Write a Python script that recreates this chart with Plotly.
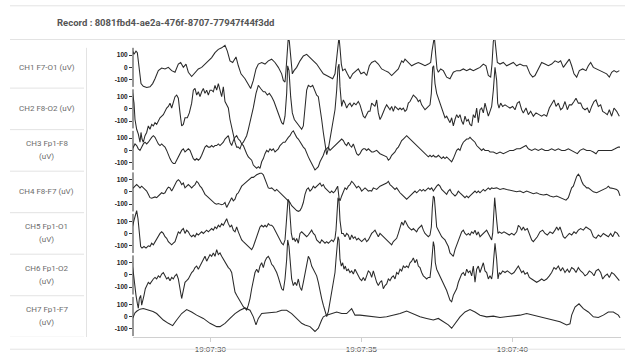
import numpy as np
import pandas as pd
import plotly.graph_objects as go

RECORD_ID = "8081fbd4-ae2a-476f-8707-77947f44f3dd"
START = pd.Timestamp("2019-05-14 19:07:27.341")   # time of sample 0
FS = 90.6                                         # samples per second
VIEW_SAMPLES = [9, 1473]                          # visible sample window

CHANNEL_LABELS = [
    ["CH1 F7-O1 (uV)"],
    ["CH2 F8-O2 (uV)"],
    ["CH3 Fp1-F8", "(uV)"],
    ["CH4 F8-F7 (uV)"],
    ["CH5 Fp1-O1", "(uV)"],
    ["CH6 Fp1-O2", "(uV)"],
    ["CH7 Fp1-F7", "(uV)"],
]
Y_TICKS = [-100, 0, 100]
CHANNEL_SPACING = 340  # uV between channel baselines

# (sample index, microvolts)
CH1 = [(5,93),(8,133),(12,107),(18,133),(22,120),(28,0),(33,-133),(40,-155),(50,-165),(60,-160),(68,-133),(75,-93),(85,-27),(95,-5),(105,-13),(115,0),(125,-27),(135,-40),(145,27),(152,40),(160,0),(168,27),(175,-40),(185,-75),(195,-40),(205,-13),(215,0),(225,27),(235,53),(245,80),(255,120),(265,147),(275,160),(285,181),(292,133),(300,53),(308,40),(318,85),(325,13),(333,-53),(345,-93),(355,-147),(362,-173),(370,-107),(378,-13),(385,27),(395,40),(405,27),(415,53),(425,67),(435,40),(445,0),(455,-53),(460,-107),(465,-120),(468,-27),(472,133),(475,250),(478,213),(482,80),(487,-53),(492,-27),(500,0),(510,53),(520,93),(530,107),(540,80),(550,53),(560,27),(570,-13),(580,-53),(590,-67),(600,-80),(608,-93),(615,-53),(620,80),(624,213),(627,250),(630,160),(634,27),(638,-27),(645,-13),(652,-53),(660,-93),(668,-53),(678,-27),(685,-13),(693,-53),(702,-40),(710,-67),(718,13),(725,40),(735,53),(745,27),(755,-13),(765,-27),(775,-40),(785,-67),(795,-40),(805,-13),(815,53),(820,40),(825,67),(835,40),(845,13),(855,27),(865,40),(875,27),(885,13),(895,27),(902,40),(906,133),(910,227),(913,250),(917,107),(921,-13),(925,-40),(932,-13),(940,-27),(950,-80),(960,-93),(970,-40),(980,-27),(990,-27),(1000,-13),(1010,-27),(1020,-13),(1030,-27),(1040,-13),(1050,0),(1060,27),(1068,13),(1075,-67),(1082,-80),(1086,27),(1090,213),(1094,250),(1098,133),(1102,40),(1110,27),(1120,40),(1130,13),(1140,27),(1150,40),(1160,13),(1170,27),(1180,13),(1190,13),(1200,-53),(1208,-80),(1215,-67),(1225,-13),(1235,40),(1245,27),(1255,13),(1265,27),(1275,53),(1285,40),(1292,53),(1300,0),(1308,27),(1318,67),(1325,13),(1332,-53),(1340,-80),(1348,-27),(1358,-13),(1368,-27),(1375,13),(1382,40),(1390,0),(1400,-13),(1410,-27),(1420,-40),(1430,-53),(1438,-80),(1445,-40),(1452,-27),(1460,-40),(1468,-27)]

CH2 = [(3,127),(5,180),(8,127),(12,47),(15,-87),(20,-167),(25,-207),(30,-273),(33,-193),(36,-247),(40,-273),(45,-220),(50,-193),(55,-140),(60,-167),(65,-127),(70,-140),(75,-113),(80,-127),(90,-73),(100,-47),(110,7),(115,20),(120,47),(125,7),(130,60),(135,100),(140,113),(145,87),(150,-33),(155,-140),(160,-127),(165,-73),(172,-73),(178,-33),(185,47),(190,153),(195,167),(200,113),(205,140),(210,100),(215,140),(220,167),(225,127),(230,153),(235,113),(240,153),(245,153),(250,140),(255,193),(260,153),(265,207),(270,153),(275,100),(280,180),(285,60),(290,33),(295,7),(300,-87),(305,-153),(310,-193),(315,-273),(320,-313),(325,-313),(330,-327),(335,-287),(340,-273),(345,-247),(350,-220),(355,-167),(360,-113),(365,-60),(370,10),(378,127),(385,193),(392,167),(400,140),(405,140),(412,113),(418,127),(425,100),(432,60),(440,7),(448,-60),(455,-113),(460,-127),(465,-60),(470,127),(473,353),(477,313),(482,100),(487,-33),(493,-87),(500,-113),(508,-140),(515,-167),(520,-140),(525,-7),(530,153),(535,193),(542,180),(548,193),(555,140),(560,113),(565,100),(570,20),(575,-87),(580,-193),(585,-273),(590,-375),(595,-327),(600,-247),(605,-167),(610,-87),(615,-7),(620,153),(624,340),(627,367),(630,180),(635,20),(640,73),(645,47),(650,7),(655,33),(660,47),(665,20),(672,47),(678,33),(685,60),(690,33),(695,-7),(700,-60),(705,-73),(710,-47),(715,-20),(720,-20),(725,47),(735,20),(740,73),(745,-33),(750,-87),(755,-60),(760,-20),(765,7),(770,33),(775,7),(780,-7),(785,20),(790,-20),(795,20),(800,7),(805,-7),(810,7),(815,-7),(820,7),(825,-20),(830,-7),(835,47),(840,60),(845,87),(850,113),(855,100),(860,87),(865,60),(870,73),(875,33),(880,7),(885,-7),(890,7),(895,20),(900,33),(904,127),(908,340),(911,353),(915,207),(920,127),(925,87),(930,47),(935,20),(940,-33),(945,-73),(950,-60),(955,-87),(960,-113),(965,-73),(970,-140),(975,-87),(980,-47),(985,-73),(990,-47),(995,-100),(1000,-127),(1005,-60),(1010,-100),(1015,-87),(1020,-127),(1025,-140),(1030,-47),(1035,-73),(1040,7),(1045,-113),(1050,-7),(1055,7),(1060,-33),(1065,47),(1070,-7),(1075,-60),(1080,-20),(1085,20),(1090,153),(1094,313),(1095,340),(1100,233),(1103,47),(1107,7),(1112,47),(1118,20),(1125,33),(1132,20),(1140,7),(1148,20),(1155,-7),(1162,47),(1168,60),(1175,-7),(1180,-33),(1188,7),(1195,-47),(1202,-20),(1210,-60),(1218,-33),(1225,-47),(1235,-60),(1242,-47),(1250,-60),(1258,7),(1265,47),(1272,73),(1278,20),(1285,47),(1292,-7),(1298,7),(1305,60),(1312,-7),(1318,33),(1325,33),(1332,60),(1338,87),(1345,47),(1352,47),(1358,7),(1365,-7),(1372,7),(1378,-33),(1385,20),(1392,60),(1398,73),(1405,20),(1412,33),(1418,-20),(1425,-33),(1432,-47),(1438,-7),(1445,-60),(1452,7),(1460,-20),(1468,-60)]

CH3 = [(5,0),(10,27),(15,53),(20,40),(25,13),(30,0),(35,27),(40,53),(45,67),(50,53),(55,67),(60,93),(65,107),(70,120),(75,107),(80,80),(85,53),(90,40),(95,53),(100,40),(105,27),(110,0),(115,-40),(120,-67),(125,-93),(130,-107),(135,-107),(140,-80),(145,-53),(150,-27),(155,0),(160,13),(165,-13),(170,0),(175,13),(180,0),(185,-40),(190,-67),(195,-80),(200,-67),(205,-80),(210,-67),(215,-40),(220,0),(225,27),(230,40),(235,27),(240,27),(245,40),(250,27),(255,40),(260,40),(265,53),(270,40),(275,53),(280,67),(285,93),(290,107),(295,120),(300,67),(305,40),(310,80),(315,107),(320,120),(325,93),(330,80),(335,53),(340,40),(345,0),(350,-27),(355,-53),(360,-67),(365,-80),(370,-120),(375,-133),(380,-147),(385,-133),(390,-147),(395,-93),(400,-67),(405,-27),(410,0),(415,-13),(420,13),(425,0),(430,13),(435,-13),(440,0),(445,13),(450,40),(455,53),(460,67),(465,67),(470,93),(475,107),(480,120),(485,147),(490,160),(495,133),(500,107),(505,93),(510,67),(515,53),(520,27),(525,13),(530,-27),(535,-53),(540,-80),(545,-107),(550,-133),(555,-160),(560,-147),(565,-133),(570,-93),(575,-67),(580,-40),(585,0),(590,13),(595,27),(600,0),(605,13),(610,27),(615,40),(620,53),(625,67),(630,80),(635,93),(640,80),(645,53),(650,40),(655,67),(660,40),(665,27),(670,53),(675,13),(680,-27),(685,-40),(690,-27),(695,0),(700,13),(705,13),(710,0),(715,13),(720,0),(725,-13),(730,-13),(740,0),(750,-27),(760,-40),(770,-53),(775,-80),(780,-67),(785,-40),(790,-27),(795,-13),(800,13),(805,27),(810,53),(815,80),(820,93),(825,107),(830,120),(835,107),(840,93),(845,80),(850,67),(855,53),(860,40),(865,27),(870,13),(875,0),(880,-13),(885,-27),(890,-40),(895,-53),(900,-40),(905,-53),(910,-40),(915,-53),(920,-53),(925,-40),(930,-53),(935,-67),(940,-53),(945,-67),(950,-53),(955,-67),(960,-80),(965,-93),(970,-67),(975,-27),(980,0),(985,13),(990,0),(995,40),(1000,67),(1005,80),(1010,93),(1015,93),(1020,107),(1025,93),(1030,80),(1035,67),(1040,40),(1045,27),(1050,13),(1055,0),(1060,13),(1065,0),(1070,0),(1075,0),(1080,-13),(1085,-13),(1090,-13),(1100,-27),(1110,-13),(1120,-27),(1130,-13),(1140,0),(1150,0),(1160,13),(1170,13),(1180,27),(1188,40),(1195,13),(1205,0),(1215,13),(1225,0),(1235,13),(1245,0),(1255,0),(1265,13),(1275,0),(1285,13),(1295,0),(1305,0),(1315,13),(1325,0),(1335,-13),(1342,-27),(1350,0),(1360,13),(1370,0),(1380,0),(1390,-13),(1398,-27),(1405,0),(1415,0),(1425,0),(1435,0),(1445,0),(1455,13),(1465,27),(1470,27)]

CH4 = [(5,33),(10,33),(15,47),(20,60),(25,47),(30,33),(35,47),(40,33),(45,20),(50,7),(55,-20),(60,-47),(65,-52),(70,-47),(75,-41),(80,-47),(85,-33),(90,-20),(95,-7),(100,-15),(105,-7),(110,20),(115,39),(120,33),(125,7),(130,33),(135,60),(140,87),(145,100),(150,87),(155,60),(160,73),(165,33),(170,47),(175,60),(180,47),(185,33),(190,47),(195,60),(200,87),(205,73),(210,47),(215,33),(220,7),(225,-20),(230,-33),(235,-47),(240,-60),(245,-73),(250,-87),(255,-95),(260,-100),(265,-95),(270,-100),(275,-105),(280,-100),(285,-87),(290,-127),(295,-100),(300,-73),(305,-47),(310,-73),(315,-60),(320,-20),(325,-7),(330,20),(335,47),(340,60),(345,73),(350,87),(355,100),(360,113),(365,119),(370,119),(380,140),(390,153),(395,153),(400,140),(405,100),(410,60),(415,33),(420,28),(425,33),(430,20),(435,7),(440,20),(445,7),(450,-7),(455,-20),(460,-33),(465,-47),(470,-60),(475,-73),(480,-87),(485,-113),(490,-127),(495,-140),(500,-153),(505,-159),(510,-153),(515,-127),(520,-87),(525,-20),(530,20),(535,33),(540,7),(545,20),(550,47),(555,33),(560,47),(565,60),(570,73),(575,47),(580,60),(585,33),(590,20),(595,7),(600,-7),(605,7),(610,-7),(615,7),(620,33),(623,47),(627,-47),(630,-73),(635,-33),(640,7),(645,33),(650,20),(655,47),(660,60),(665,87),(670,73),(675,47),(680,33),(685,47),(690,33),(695,7),(700,20),(705,33),(710,20),(715,7),(720,12),(725,7),(730,33),(740,20),(750,47),(760,60),(770,73),(775,87),(780,60),(785,47),(790,33),(795,20),(800,33),(805,7),(810,-7),(815,-20),(820,-33),(825,-47),(830,-60),(835,-47),(840,-33),(845,-20),(850,-7),(855,7),(860,-7),(865,7),(870,20),(875,7),(880,20),(885,7),(890,20),(895,33),(900,20),(905,33),(910,7),(915,33),(920,47),(925,60),(930,47),(935,20),(940,7),(945,-7),(950,-20),(955,7),(960,20),(965,-7),(970,-20),(975,-33),(980,-20),(985,7),(990,-7),(995,-20),(1000,-33),(1005,-47),(1010,-33),(1015,-47),(1020,-33),(1025,-20),(1030,-7),(1035,7),(1040,-7),(1045,7),(1050,-7),(1055,7),(1060,20),(1065,7),(1070,20),(1075,33),(1080,20),(1085,33),(1090,28),(1100,33),(1110,20),(1120,28),(1130,20),(1140,12),(1150,7),(1160,1),(1170,7),(1180,-7),(1190,7),(1200,-7),(1210,-15),(1220,-7),(1230,-20),(1240,-25),(1250,-20),(1260,-33),(1270,-41),(1280,-33),(1290,-47),(1300,-60),(1308,-68),(1315,-47),(1320,-7),(1325,33),(1330,47),(1335,87),(1340,127),(1345,145),(1350,127),(1355,87),(1360,60),(1365,47),(1370,33),(1375,33),(1380,20),(1385,7),(1390,1),(1400,-7),(1410,7),(1420,20),(1430,33),(1435,47),(1440,33),(1450,28),(1460,20),(1465,7),(1470,-33)]

CH5 = [(5,27),(8,53),(12,107),(16,147),(20,187),(24,120),(28,0),(32,-107),(36,-120),(42,-107),(48,-120),(55,-101),(60,-107),(65,-80),(70,-93),(75,-67),(80,-40),(85,-13),(90,0),(95,13),(100,0),(105,-27),(110,-40),(115,-67),(120,-80),(125,-93),(130,-80),(135,-67),(140,-27),(145,13),(150,0),(155,27),(160,40),(165,0),(170,27),(175,13),(180,-13),(185,-27),(190,-13),(195,-27),(200,0),(205,-13),(210,0),(215,13),(220,0),(225,13),(230,27),(235,13),(240,27),(245,40),(250,27),(255,53),(260,40),(265,67),(270,53),(275,80),(280,67),(285,93),(290,120),(295,80),(300,53),(305,67),(310,27),(315,13),(320,53),(325,13),(330,-27),(335,-53),(340,-67),(345,-80),(350,-93),(355,-107),(360,-120),(365,-133),(370,-107),(375,-67),(380,-27),(385,27),(390,53),(395,67),(400,53),(405,67),(410,53),(415,80),(420,67),(425,67),(430,53),(435,27),(440,0),(445,-27),(450,-53),(455,-80),(460,-93),(465,-53),(468,53),(471,213),(474,280),(477,267),(480,133),(484,0),(488,-53),(492,-40),(496,-67),(500,-40),(505,-80),(510,0),(515,13),(520,0),(525,-13),(530,-27),(535,-13),(540,13),(545,27),(550,0),(555,-13),(560,-53),(565,-67),(570,-80),(575,-53),(580,-67),(585,-80),(590,-67),(595,-80),(600,-67),(605,-53),(610,-67),(615,-40),(618,27),(621,187),(624,293),(627,267),(630,107),(635,0),(640,0),(645,-27),(650,0),(655,-13),(660,-53),(665,-13),(670,-40),(675,-27),(680,-53),(685,-40),(690,-53),(695,-67),(700,-53),(705,-40),(710,-67),(715,-53),(720,-27),(725,0),(730,13),(735,27),(740,0),(745,-27),(750,0),(755,-13),(760,-27),(765,-40),(770,-53),(775,-67),(780,-80),(785,-93),(790,-67),(795,-53),(800,-40),(805,0),(810,53),(815,93),(820,67),(825,107),(830,80),(835,53),(840,40),(845,27),(850,40),(855,27),(860,13),(865,40),(870,53),(875,67),(880,27),(885,0),(890,-13),(895,-27),(900,-13),(904,53),(907,213),(910,307),(913,293),(916,160),(920,53),(925,27),(930,0),(935,-27),(940,-40),(945,-53),(950,-80),(955,-107),(960,-160),(965,-173),(970,-187),(975,-133),(980,-93),(985,-53),(990,-13),(995,13),(1000,27),(1005,0),(1010,-13),(1015,0),(1020,-13),(1025,13),(1030,0),(1035,27),(1040,-13),(1045,13),(1050,-27),(1055,-13),(1060,0),(1065,13),(1070,27),(1075,0),(1080,-27),(1085,-53),(1088,0),(1091,187),(1094,293),(1100,107),(1104,0),(1108,13),(1115,0),(1122,13),(1130,0),(1138,-13),(1145,0),(1152,-13),(1160,13),(1165,67),(1170,53),(1175,27),(1180,53),(1185,27),(1192,40),(1198,0),(1205,-53),(1210,-67),(1215,-53),(1222,-27),(1230,13),(1238,27),(1245,0),(1252,-13),(1260,13),(1268,0),(1275,27),(1280,53),(1285,27),(1290,53),(1295,13),(1300,-27),(1305,-40),(1310,-27),(1318,0),(1325,-13),(1332,13),(1338,0),(1345,27),(1352,40),(1360,27),(1368,53),(1375,40),(1382,27),(1390,-27),(1398,-40),(1405,-13),(1412,-27),(1420,0),(1428,-13),(1435,-27),(1442,0),(1448,-27),(1455,13),(1462,0),(1468,-27)]

CH6 = [(3,127),(6,100),(10,20),(14,-87),(18,-167),(22,-233),(25,-273),(28,-193),(32,-167),(35,-247),(38,-220),(42,-167),(46,-113),(50,-87),(55,-60),(60,-73),(65,-47),(70,-33),(75,-20),(80,-33),(85,-7),(90,-20),(95,7),(100,20),(105,-7),(110,-33),(115,-20),(120,-47),(125,-20),(130,-33),(135,-7),(140,7),(145,-33),(150,-113),(155,-193),(160,-127),(165,-60),(170,-47),(175,-33),(180,-7),(185,20),(190,33),(195,60),(200,73),(205,47),(210,73),(215,100),(220,127),(225,153),(230,113),(235,140),(240,167),(245,153),(250,180),(255,153),(260,207),(265,167),(270,180),(275,153),(280,127),(285,100),(290,73),(295,60),(300,47),(305,20),(310,-60),(315,-140),(320,-167),(325,-193),(330,-220),(335,-233),(340,-260),(345,-273),(350,-287),(355,-247),(360,-193),(365,-113),(370,-33),(375,20),(380,47),(385,20),(390,73),(395,100),(400,60),(405,113),(410,140),(415,153),(420,127),(425,87),(430,73),(435,47),(440,20),(445,-20),(450,-60),(455,-113),(460,-127),(465,-33),(470,127),(473,287),(477,233),(481,73),(485,-33),(490,-87),(495,-60),(500,-87),(505,-33),(510,-100),(515,-127),(520,-60),(525,20),(530,100),(535,153),(540,127),(545,73),(550,47),(555,20),(560,-7),(565,-60),(570,-140),(575,-193),(580,-247),(585,-300),(590,-340),(595,-300),(600,-220),(605,-140),(610,-60),(615,20),(618,127),(621,260),(624,313),(627,287),(630,127),(634,73),(638,100),(642,47),(646,73),(650,33),(655,47),(660,20),(665,33),(670,7),(675,47),(680,20),(685,-7),(690,-33),(695,-47),(700,-20),(705,-47),(710,-7),(715,33),(720,20),(725,-20),(730,33),(735,-20),(740,-60),(745,-87),(750,-60),(755,-47),(760,-113),(765,-87),(770,-73),(775,-33),(780,-47),(785,-20),(790,-7),(795,-33),(800,20),(805,7),(810,47),(815,33),(820,73),(825,60),(830,73),(835,60),(840,100),(845,113),(850,140),(855,100),(860,127),(865,73),(870,60),(875,20),(880,-7),(885,-20),(890,-33),(895,-20),(900,-20),(904,73),(907,207),(910,273),(913,233),(916,100),(920,47),(925,20),(930,-7),(935,-33),(940,-60),(945,-87),(950,-127),(955,-167),(960,-207),(965,-220),(970,-167),(975,-140),(980,-113),(985,-60),(990,-20),(995,7),(1000,20),(1005,-7),(1010,47),(1015,20),(1020,33),(1025,-7),(1030,73),(1035,-60),(1040,47),(1045,73),(1050,20),(1055,60),(1060,100),(1065,33),(1070,20),(1075,-33),(1080,-7),(1085,-33),(1088,20),(1091,127),(1095,260),(1100,127),(1104,-33),(1108,20),(1112,7),(1118,33),(1125,20),(1132,33),(1138,20),(1145,7),(1152,20),(1160,60),(1165,73),(1170,47),(1175,20),(1180,33),(1185,7),(1192,20),(1198,-20),(1205,-33),(1212,-47),(1220,-60),(1228,-47),(1235,-33),(1242,-47),(1250,-33),(1258,-7),(1265,20),(1272,60),(1278,47),(1285,73),(1292,33),(1298,60),(1305,20),(1312,47),(1318,20),(1325,60),(1332,47),(1338,20),(1345,60),(1352,33),(1358,20),(1365,-7),(1372,7),(1378,33),(1385,20),(1392,-7),(1398,33),(1405,47),(1412,20),(1418,-33),(1425,-7),(1432,7),(1438,-20),(1445,20),(1452,7),(1460,-20),(1468,-47)]

CH7 = [(4,-40),(9,0),(15,30),(21,45),(30,60),(40,65),(50,55),(60,51),(69,40),(80,24),(90,0),(100,-29),(115,-56),(128,-75),(140,-29),(155,24),(170,56),(185,37),(200,11),(220,-16),(240,-56),(260,-83),(270,-83),(285,-56),(300,-16),(315,24),(330,51),(345,70),(360,51),(370,-3),(378,-69),(385,-16),(395,24),(410,29),(425,37),(440,37),(455,51),(470,51),(485,24),(500,-16),(515,-56),(525,-69),(540,-83),(555,-123),(565,-96),(575,-29),(580,-3),(590,11),(605,24),(620,37),(635,24),(650,24),(665,64),(675,11),(690,11),(710,3),(730,-3),(750,-8),(770,-3),(790,11),(810,24),(830,45),(850,24),(870,-3),(890,-16),(910,-29),(925,-16),(940,-43),(955,-69),(965,-96),(975,-56),(990,-3),(1005,37),(1020,56),(1035,37),(1050,11),(1070,-3),(1090,3),(1110,-8),(1130,-3),(1150,3),(1170,11),(1190,24),(1210,11),(1230,-3),(1250,-16),(1270,-29),(1290,-43),(1310,-69),(1320,-60),(1325,11),(1335,77),(1347,104),(1360,64),(1375,37),(1390,-3),(1405,-8),(1420,11),(1435,37),(1450,37),(1465,11),(1470,-10)]

CHANNELS = [CH1, CH2, CH3, CH4, CH5, CH6, CH7]

LINE_COLOR = "#2a2a2a"
AXIS_COLOR = "#333333"
LABEL_COLOR = "#6c6c6c"
RULE_COLOR = "#e3e3e3"

# figure geometry (pixels)
W, H = 625, 358
ML, MR, MT, MB = 133, 4, 40, 14
PW, PH = W - ML - MR, H - MT - MB


def px_x(p):
    return (p - ML) / PW


def px_y(p):
    return (H - MB - p) / PH


def to_time(samples):
    return START + pd.to_timedelta(np.asarray(samples, dtype=float) / FS, unit="s")


n = len(CHANNELS)
offsets = [(n - 1 - k) * CHANNEL_SPACING for k in range(n)]

fig = go.Figure()
for k, ch in enumerate(CHANNELS):
    idx = [p[0] for p in ch]
    uv = np.array([p[1] for p in ch], dtype=float)
    fig.add_trace(go.Scatter(
        x=to_time(idx), y=uv + offsets[k], mode="lines",
        line=dict(color=LINE_COLOR, width=1.05), showlegend=False,
        hoverinfo="skip"))

tickvals, ticktext = [], []
for off in offsets:
    for t in Y_TICKS:
        tickvals.append(off + t)
        ticktext.append(str(t))

shapes = []
annotations = []
# y axis segments per channel
for off in offsets:
    shapes.append(dict(type="line", xref="paper", yref="y", x0=0, x1=0,
                       y0=off - 160, y1=off + 160,
                       line=dict(color=AXIS_COLOR, width=1)))
# label column separators
for off in offsets:
    yb = off - CHANNEL_SPACING / 2
    shapes.append(dict(type="line", xref="paper", yref="y",
                       x0=px_x(10), x1=px_x(84), y0=yb, y1=yb,
                       line=dict(color=RULE_COLOR, width=1)))
shapes.append(dict(type="line", xref="paper", yref="y",
                   x0=px_x(86.5), x1=px_x(86.5),
                   y0=offsets[-1] - CHANNEL_SPACING / 2,
                   y1=offsets[0] + CHANNEL_SPACING / 2 - 10,
                   line=dict(color=RULE_COLOR, width=1)))
# header / footer rules
for py in (5, 39.5, 356.5):
    shapes.append(dict(type="line", xref="paper", yref="paper",
                       x0=px_x(10), x1=px_x(625), y0=px_y(py), y1=px_y(py),
                       line=dict(color=RULE_COLOR, width=1)))

# channel labels
for k, lines in enumerate(CHANNEL_LABELS):
    shifts = [0] if len(lines) == 1 else [6.5, -6.5]
    for txt, sh in zip(lines, shifts):
        annotations.append(dict(
            text=txt, xref="paper", yref="y", x=px_x(46.5), y=offsets[k],
            xanchor="center", yanchor="middle", yshift=sh, showarrow=False,
            font=dict(family="Roboto, Open Sans, sans-serif", size=8,
                      color=LABEL_COLOR)))

annotations.append(dict(
    text="<b>Record : " + RECORD_ID + "</b>", xref="paper", yref="paper",
    x=px_x(55), y=px_y(22), xanchor="left", yanchor="middle",
    showarrow=False,
    font=dict(family="Roboto, Open Sans, sans-serif", size=9.5,
              color="#555555")))

fig.update_layout(
    width=W, height=H,
    margin=dict(l=ML, r=MR, t=MT, b=MB, pad=0),
    paper_bgcolor="white", plot_bgcolor="white",
    shapes=shapes, annotations=annotations,
    xaxis=dict(
        type="date",
        range=[to_time([VIEW_SAMPLES[0]])[0], to_time([VIEW_SAMPLES[1]])[0]],
        tickformat="%H:%M:%S", dtick=5000, showgrid=False, zeroline=False,
        showline=True, linecolor="#d0d0d0", linewidth=1,
        ticks="outside", ticklen=4, tickcolor="#d0d0d0",
        tickfont=dict(family="Liberation Sans, Arial, sans-serif", size=8,
                      color="#444444")),
    yaxis=dict(
        range=[-168, 2264], tickmode="array", tickvals=tickvals,
        ticktext=ticktext, showgrid=False, zeroline=False, showline=False,
        ticks="outside", ticklen=3, tickcolor=AXIS_COLOR,
        tickfont=dict(family="Liberation Sans, Arial, sans-serif", size=6.5,
                      color="#222222", weight="bold")),
)

fig.write_html("out.html")
